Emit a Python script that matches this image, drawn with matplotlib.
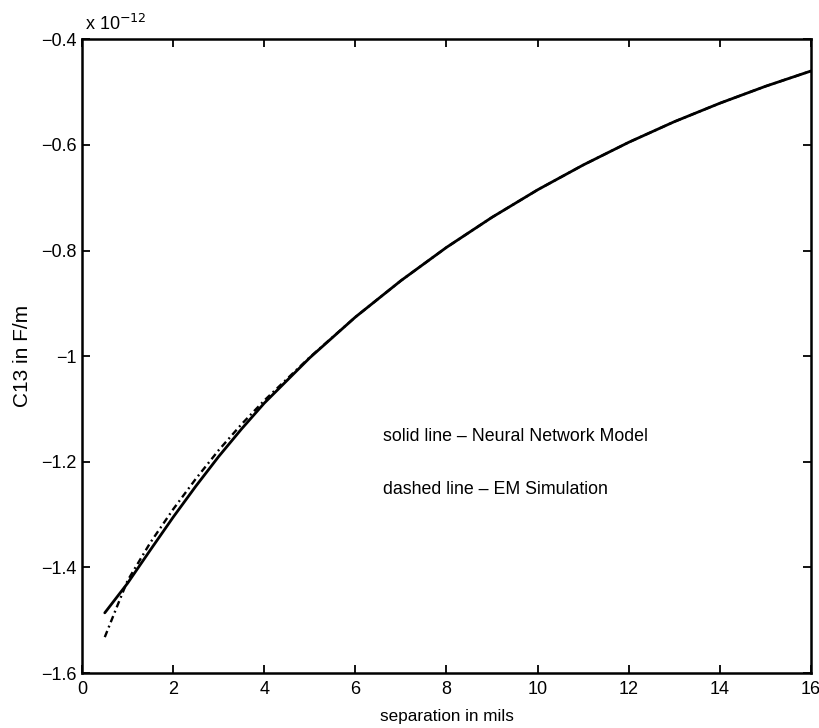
import matplotlib
matplotlib.use("Agg")
import matplotlib.pyplot as plt
import numpy as np

# separation in mils
sep_nn = [0.5, 1.0, 1.5, 2.0, 2.5, 3.0, 3.5, 4.0, 5.0, 6.0, 7.0, 8.0,
          9.0, 10.0, 11.0, 12.0, 13.0, 14.0, 15.0, 16.0]
# C13 (x 1e-12 F/m) neural network model (solid)
c13_nn = [-1.486, -1.430, -1.367, -1.305, -1.246, -1.190, -1.138, -1.089,
          -1.003, -0.926, -0.857, -0.794, -0.737, -0.685, -0.638, -0.595,
          -0.556, -0.521, -0.489, -0.460]

# EM simulation (dash-dot)
sep_em = [0.5, 0.75, 1.0, 1.5, 2.0, 2.5, 3.0, 3.5, 4.0, 5.0, 6.0, 7.0, 8.0,
          9.0, 10.0, 11.0, 12.0, 13.0, 14.0, 15.0, 16.0]
c13_em = [-1.532, -1.478, -1.425, -1.353, -1.290, -1.232, -1.178, -1.129,
          -1.084, -1.002, -0.926, -0.857, -0.794, -0.737, -0.685, -0.638,
          -0.595, -0.556, -0.521, -0.489, -0.460]

xticks = [0, 2, 4, 6, 8, 10, 12, 14, 16]
yticks = [-1.6, -1.4, -1.2, -1.0, -0.8, -0.6, -0.4]
yticklabels = ["\u22121.6", "\u22121.4", "\u22121.2", "\u22121", "\u22120.8", "\u22120.6", "\u22120.4"]

plt.rcParams['font.family'] = ['Liberation Sans', 'DejaVu Sans']

fig = plt.figure(figsize=(8.2, 7.28), dpi=100)
ax = fig.add_axes([0.100, 0.0755, 0.889, 0.8705])

ax.plot(sep_nn, c13_nn, color='black', lw=2.0, solid_capstyle='round')
ax.plot(sep_em, c13_em, color='black', lw=1.7, linestyle=(0, (2.8, 1.6, 0.8, 1.6)))

ax.set_xlim(0, 16)
ax.set_ylim(-1.6, -0.4)
ax.set_xticks(xticks)
ax.set_xticklabels([str(t) for t in xticks])
ax.set_yticks(yticks)
ax.set_yticklabels(yticklabels)

ax.tick_params(direction='in', length=6, width=1.3, top=True, right=True,
               labelsize=13, colors='black')
ax.tick_params(axis='x', pad=6)
ax.tick_params(axis='y', pad=4)
for s in ax.spines.values():
    s.set_linewidth(1.8)
    s.set_color('black')

ax.set_xlabel("separation in mils", fontsize=12.3, labelpad=8)
ax.set_ylabel("C13 in F/m", fontsize=15, labelpad=6)

ax.text(0.004, 1.009, r"x 10$^{-12}$", transform=ax.transAxes, fontsize=13,
        ha='left', va='bottom')

ax.text(6.6, -1.153, "solid line \u2013 Neural Network Model", fontsize=12.8,
        ha='left', va='center')
ax.text(6.6, -1.253, "dashed line \u2013 EM Simulation", fontsize=12.8,
        ha='left', va='center')

fig.savefig("out.png", dpi=100)
